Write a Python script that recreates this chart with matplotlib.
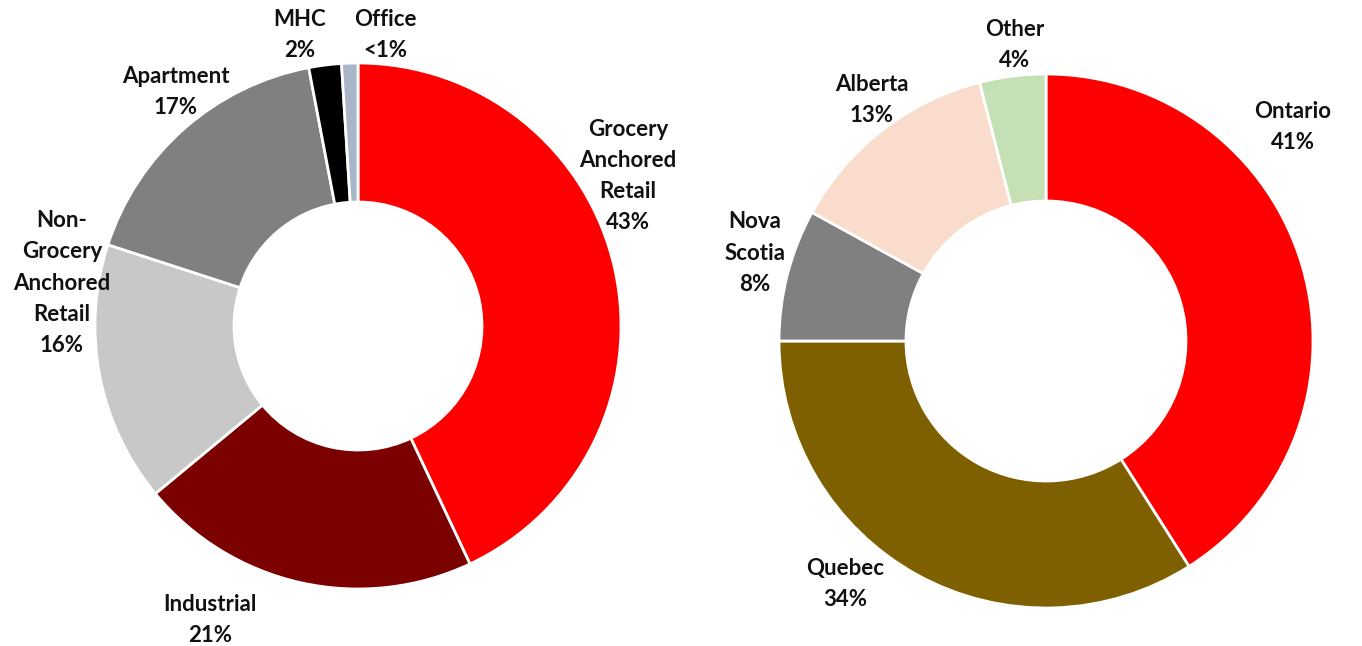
import numpy as np
import matplotlib.pyplot as plt

# left donut: asset class
asset_labels = ['Grocery\nAnchored\nRetail', 'Industrial', 'Non-\nGrocery\nAnchored\nRetail', 'Apartment', 'MHC', 'Office']
asset_pct = [43, 21, 16, 17, 2, 1]
asset_text = ['43%', '21%', '16%', '17%', '2%', '<1%']
asset_colors = ['#FF0000', '#7B0000', '#C8C8C8', '#808080', '#000000', '#A8B6C8']

# right donut: province
prov_labels = ['Ontario', 'Quebec', 'Nova\nScotia', 'Alberta', 'Other']
prov_pct = [41, 34, 8, 13, 4]
prov_text = ['41%', '34%', '8%', '13%', '4%']
prov_colors = ['#FF0000', '#7F6000', '#808080', '#F9DCCB', '#C5E0B4']

W, H = 1362, 646
plt.rcParams['font.family'] = ['Lato', 'DejaVu Sans']

fig = plt.figure(figsize=(W / 100, H / 100), dpi=100)
ax = fig.add_axes([0, 0, 1, 1])

def donut(values, colors, cx, cy, r, hole):
    wedges, _ = ax.pie(values, colors=colors, startangle=90, counterclock=False,
                       center=(cx, H - cy), radius=r,
                       wedgeprops=dict(width=r - hole, edgecolor='white', linewidth=2))
    return wedges

donut(asset_pct, asset_colors, 358, 326, 263, 124)
donut(prov_pct, prov_colors, 1046, 341, 267, 140)

# label positions (pixel layout, top-left origin)
asset_pos = [(628, 176), (210, 620), (62, 283), (176, 92), (300, 35), (385, 35)]
prov_pos = [(1293, 127), (845, 584), (755, 253), (872, 100), (1015, 45)]

for labs, txt, pos in [(asset_labels, asset_text, asset_pos), (prov_labels, prov_text, prov_pos)]:
    for lab, t, (x, y) in zip(labs, txt, pos):
        ax.text(x, H - y, lab + '\n' + t, ha='center', va='center', fontsize=16,
                fontweight='bold', color='#111111', linespacing=1.6)

ax.set_xlim(0, W)
ax.set_ylim(0, H)
ax.set_aspect('equal')
ax.axis('off')
fig.savefig('out.png', dpi=100)
